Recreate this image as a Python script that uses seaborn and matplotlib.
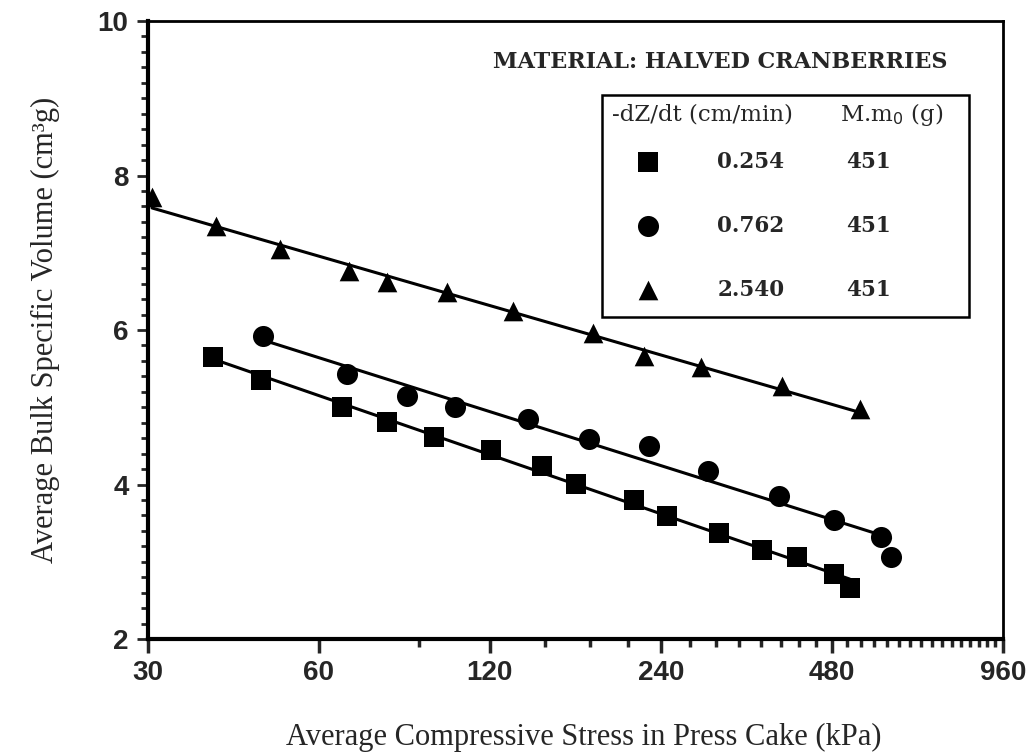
import numpy as np
import pandas as pd
import seaborn as sns
import matplotlib.pyplot as plt
from matplotlib.patches import Rectangle
from matplotlib.ticker import FixedLocator, NullFormatter

# stress (kPa) and bulk specific volume
sq_x = [39, 47.5, 66, 79, 95.5, 120.5, 148, 170, 215, 246, 304, 362, 417, 484, 516]
sq_y = [5.65, 5.35, 5.00, 4.81, 4.62, 4.45, 4.24, 4.01, 3.80, 3.59, 3.37, 3.15, 3.06, 2.84, 2.66]

circ_x = [47.9, 67.2, 85.6, 104, 140, 179, 229, 291, 388, 484, 585, 609]
circ_y = [5.92, 5.43, 5.15, 5.01, 4.85, 4.59, 4.50, 4.17, 3.85, 3.54, 3.32, 3.06]

tri_x = [30.5, 39.5, 51.3, 67.7, 79.2, 101, 132, 182, 224, 282, 392, 537]
tri_y = [7.72, 7.35, 7.05, 6.76, 6.62, 6.49, 6.25, 5.96, 5.66, 5.52, 5.27, 4.98]

rates = ['0.254', '0.762', '2.540']
masses = ['451', '451', '451']
markers = ['s', 'o', '^']

x_ticks = [30, 60, 120, 240, 480, 960]
x_minor = [30 * k for k in range(3, 32) if 30 * k not in x_ticks]
y_ticks = [2, 4, 6, 8, 10]

series = [(sq_x, sq_y), (circ_x, circ_y), (tri_x, tri_y)]

sns.set_style('white')
serif = ['Liberation Serif', 'DejaVu Serif']
box_font = ['DejaVu Serif']
ticks_font = ['Liberation Sans Narrow', 'Liberation Sans', 'DejaVu Sans']

fig = plt.figure(figsize=(10.26, 7.54), dpi=100)
ax = fig.add_axes([0.1442, 0.1525, 0.8333, 0.8196])
ax.set_xscale('log')

for (xs, ys), m in zip(series, markers):
    df = pd.DataFrame({'x': xs, 'y': ys})
    sns.regplot(data=df, x='x', y='y', logx=True, ci=None, ax=ax,
                marker=m, color='black',
                scatter_kws={'s': 200 if m != 'o' else 230, 'linewidths': 0, 'alpha': 1, 'zorder': 3},
                line_kws={'linewidth': 2.2, 'zorder': 2})

ax.set_xlim(30, 960)
ax.set_ylim(2, 10)
ax.xaxis.set_major_locator(FixedLocator(x_ticks))
ax.xaxis.set_minor_locator(FixedLocator(x_minor))
ax.xaxis.set_minor_formatter(NullFormatter())
ax.set_xticklabels([str(t) for t in x_ticks])
ax.set_yticks(y_ticks)
ax.yaxis.set_minor_locator(FixedLocator(np.arange(2, 10.01, 0.2)))

for lab in ax.get_xticklabels() + ax.get_yticklabels():
    lab.set_family(ticks_font)
    lab.set_fontweight('bold')
    lab.set_fontsize(20)

ax.tick_params(axis='x', which='major', direction='out', length=10, width=2.5, pad=5, bottom=True)
ax.tick_params(axis='x', which='minor', direction='out', length=6, width=2.5, bottom=True)
ax.tick_params(axis='y', which='major', direction='out', length=8, width=2, pad=6, left=True)
ax.tick_params(axis='y', which='minor', direction='out', length=5, width=2, left=True)

for side in ['left', 'bottom']:
    ax.spines[side].set_linewidth(3)
for side in ['top', 'right']:
    ax.spines[side].set_linewidth(2)
for sp in ax.spines.values():
    sp.set_color('black')

ax.set_xlabel('Average Compressive Stress in Press Cake (kPa)', family=serif, fontsize=22)
ax.set_ylabel('Average Bulk Specific Volume (cm³g)', family=serif, fontsize=22)
ax.xaxis.set_label_coords(0.51, -0.135)
ax.yaxis.set_label_coords(-0.103, 0.5)

# annotation and legend table
ax.text(0.669, 0.934, 'MATERIAL: HALVED CRANBERRIES', transform=ax.transAxes,
        ha='center', va='center', family=box_font, fontsize=16, fontweight='bold')
ax.add_patch(Rectangle((0.531, 0.521), 0.429, 0.359, transform=ax.transAxes,
                       fill=False, edgecolor='black', linewidth=1.8, zorder=4))
ax.text(0.543, 0.848, '-dZ/dt (cm/min)', transform=ax.transAxes,
        ha='left', va='center', family=box_font, fontsize=16.5)
ax.text(0.809, 0.848, 'M.m$_0$ (g)', transform=ax.transAxes,
        ha='left', va='center', family=box_font, fontsize=16.5)
row_y = [0.772, 0.668, 0.565]
for ry, m, r, ms in zip(row_y, markers, rates, masses):
    ax.scatter([0.585], [ry], marker=m, s=200 if m != 'o' else 230, color='black',
               transform=ax.transAxes, clip_on=False, linewidths=0)
    ax.text(0.705, ry, r, transform=ax.transAxes, ha='center', va='center',
            family=box_font, fontsize=15.5, fontweight='bold')
    ax.text(0.843, ry, ms, transform=ax.transAxes, ha='center', va='center',
            family=box_font, fontsize=15.5, fontweight='bold')

fig.savefig('out.png', dpi=100)
